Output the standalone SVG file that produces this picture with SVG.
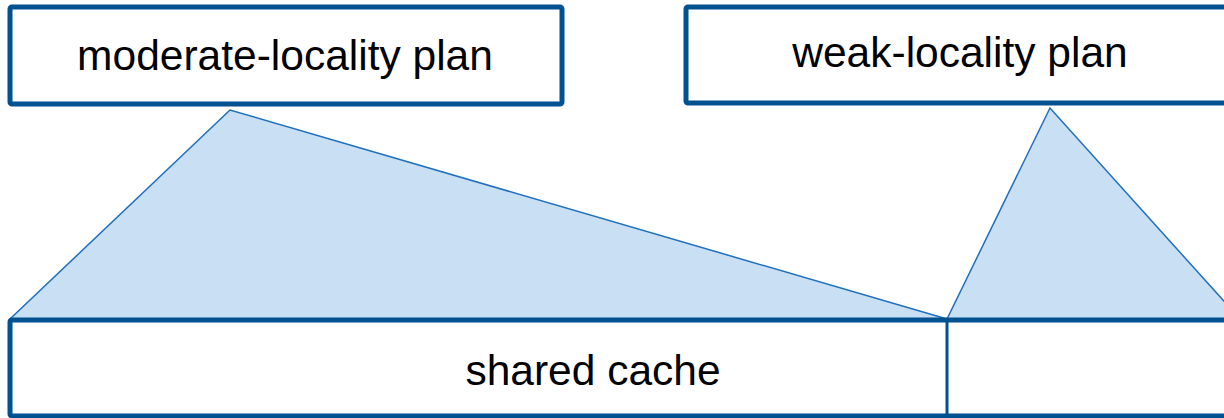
<svg xmlns="http://www.w3.org/2000/svg" width="1224" height="418" viewBox="0 0 1224 418">
  <style>
    .box { fill: #ffffff; stroke: #00518f; stroke-width: 5; }
    .cone { fill: #c9dff3; stroke: #1f6fbf; stroke-width: 1.5; stroke-linejoin: miter; }
    .label { font-family: "Liberation Sans", Arial, sans-serif; font-size: 42.5px; fill: #000000; text-anchor: middle; }
    .div { stroke: #00518f; stroke-width: 3; }
  </style>
  <rect width="1224" height="418" fill="#ffffff"/>
  <!-- projection cones from each plan onto the cache -->
  <g id="connectors">
    <polygon class="cone" points="230,110 10,319 947,319"/>
    <polygon class="cone" points="1050,108 947,319 1240,319"/>
  </g>
  <g id="moderate-plan">
    <rect class="box" x="10" y="7" width="552" height="97" rx="2"/>
    <text class="label" x="285" y="70">moderate-locality plan</text>
  </g>
  <g id="weak-plan">
    <rect class="box" x="686" y="7" width="560" height="96" rx="2"/>
    <text class="label" x="960" y="67">weak-locality plan</text>
  </g>
  <g id="shared-cache">
    <rect class="box" x="10" y="320" width="1240" height="96" rx="2"/>
    <line class="div" x1="947" y1="320" x2="947" y2="416"/>
    <text class="label" x="593" y="385">shared cache</text>
  </g>
</svg>
